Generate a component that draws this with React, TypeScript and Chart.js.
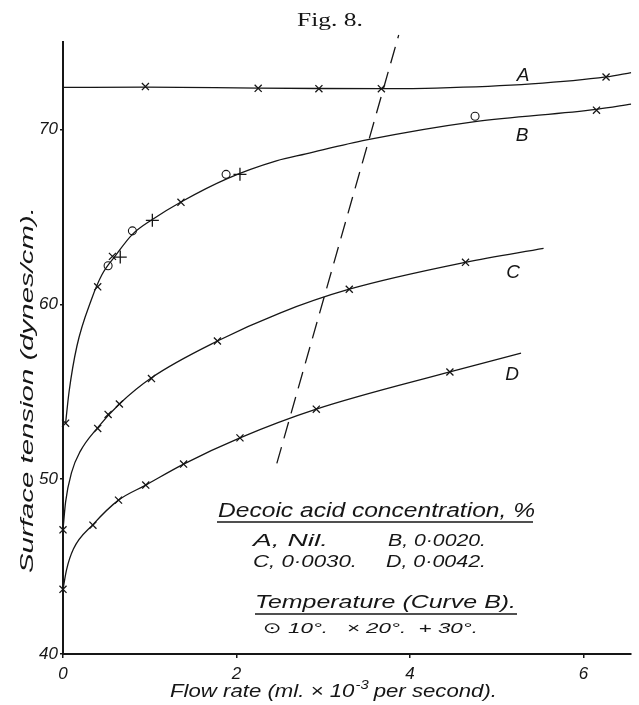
import React, { useEffect, useRef } from "react";
import { Chart, registerables } from "chart.js";
Chart.register(...registerables);

const INK = "#161616";

const xTickValues = [0, 2, 4, 6];
const yTickValues = [40, 50, 60, 70];
const xRange = [0, 6.55];
const yRange = [40, 75];

type P = [number, number];

// Curve A – Nil
const curveA: P[] = [[0, 72.4], [0.95, 72.42], [2.25, 72.36], [2.95, 72.34], [3.67, 72.33], [4.3, 72.36], [5.4, 72.6], [6.26, 73.0], [6.55, 73.25]];
const markA20: P[] = [[0.95, 72.45], [2.25, 72.35], [2.95, 72.33], [3.67, 72.33], [6.26, 73.0]];

// Curve B – 0.0020 %
const curveB: P[] = [[0.03, 53.2], [0.07, 55.0], [0.16, 57.6], [0.33, 60.3], [0.45, 61.7], [0.6, 62.75], [0.8, 64.0], [1.03, 64.85], [1.36, 65.85], [1.9, 67.2], [2.46, 68.2], [2.8, 68.6], [3.5, 69.4], [4.75, 70.45], [6.15, 71.15], [6.55, 71.45]];
const markB10: P[] = [[0.52, 62.2], [0.8, 64.2], [1.88, 67.43], [4.75, 70.75]];
const markB20: P[] = [[0.03, 53.2], [0.4, 61.0], [0.57, 62.74], [1.36, 65.83], [6.15, 71.1]];
const markB30: P[] = [[0.66, 62.7], [1.03, 64.8], [2.04, 67.43]];

// Curve C – 0.0030 %
const curveC: P[] = [[0, 47.1], [0.03, 48.7], [0.1, 50.4], [0.2, 51.6], [0.4, 52.95], [0.65, 54.3], [1.02, 55.8], [1.78, 57.9], [2.5, 59.5], [3.3, 60.86], [4.64, 62.4], [5.54, 63.2]];
const markC20: P[] = [[0, 47.1], [0.4, 52.9], [0.52, 53.7], [0.65, 54.3], [1.02, 55.75], [1.78, 57.9], [3.3, 60.86], [4.64, 62.4]];

// Curve D – 0.0042 %
const curveD: P[] = [[0, 43.7], [0.04, 44.8], [0.12, 46.0], [0.345, 47.4], [0.64, 48.8], [0.954, 49.66], [1.39, 50.86], [2.04, 52.36], [2.92, 54.0], [4.46, 56.13], [5.28, 57.2]];
const markD20: P[] = [[0, 43.7], [0.345, 47.37], [0.64, 48.8], [0.954, 49.66], [1.39, 50.86], [2.04, 52.36], [2.92, 54.0], [4.46, 56.13]];

// dashed line
const dashedLine: P[] = [[2.465, 50.9], [3.87, 75.4]];

const xy = (a: P[]) => a.map(([x, y]) => ({ x, y }));

const FONT = "'Liberation Sans', 'DejaVu Sans', sans-serif";

const lineDs = (d: P[], extra: any = {}) => ({
  type: "line",
  data: xy(d),
  borderColor: INK,
  borderWidth: 1.3,
  pointRadius: 0,
  pointHoverRadius: 0,
  fill: false,
  tension: 0.4,
  cubicInterpolationMode: "monotone",
  ...extra,
});

const markDs = (d: P[], style: string, r: number, bg = "rgba(0,0,0,0)", bw = 1.3) => ({
  type: "line",
  data: xy(d),
  showLine: false,
  pointStyle: style,
  pointRadius: r,
  pointHoverRadius: r,
  pointBorderColor: INK,
  pointBackgroundColor: bg,
  pointBorderWidth: bw,
  clip: false,
});

const textPlugin = {
  id: "figTexts",
  afterDraw(chart: any) {
    const ctx: CanvasRenderingContext2D = chart.ctx;
    ctx.save();
    ctx.fillStyle = INK;
    ctx.strokeStyle = INK;
    ctx.textBaseline = "alphabetic";
    ctx.textAlign = "left";

    const fit = (t: string, x: number, y: number, w: number, font: string, align = "left") => {
      ctx.font = font;
      const m = ctx.measureText(t).width;
      const s = w / m;
      ctx.save();
      const x0 = align === "center" ? x - w / 2 : x;
      ctx.translate(x0, y);
      ctx.scale(s, 1);
      ctx.fillText(t, 0, 0);
      ctx.restore();
    };
    const hline = (x1: number, x2: number, y: number, w = 1.3) => {
      ctx.beginPath();
      ctx.lineWidth = w;
      ctx.moveTo(x1, y);
      ctx.lineTo(x2, y);
      ctx.stroke();
    };

    // figure title
    (ctx as any).fontVariantCaps = "small-caps";
    fit("Fig. 8.", 330, 26, 66, "19px 'Liberation Serif', 'DejaVu Serif', serif", "center");
    (ctx as any).fontVariantCaps = "normal";

    // curve labels
    const lf = `italic 19px ${FONT}`;
    ctx.font = lf;
    ctx.textAlign = "center";
    ctx.fillText("A", 523, 81);
    ctx.fillText("B", 522, 141);
    ctx.fillText("C", 513, 278);
    ctx.fillText("D", 512, 380);
    ctx.textAlign = "left";

    // legend block
    fit("Decoic acid concentration, %", 218, 517, 317, `italic 20px ${FONT}`);
    hline(217, 533, 522);
    fit("A, Nil.", 253, 546, 75, `italic 17px ${FONT}`);
    fit("B, 0·0020.", 388, 546, 98, `italic 17px ${FONT}`);
    fit("C, 0·0030.", 253, 567, 104, `italic 17px ${FONT}`);
    fit("D, 0·0042.", 386, 567, 100, `italic 17px ${FONT}`);
    fit("Temperature (Curve B).", 255, 608, 261, `italic 19px ${FONT}`);
    hline(255, 517, 614);
    fit("⊙ 10°.   × 20°.  + 30°.", 263, 633, 215, `italic 15px ${FONT}`);

    // y-axis title
    ctx.save();
    ctx.translate(33, 390);
    ctx.rotate(-Math.PI / 2);
    fit("Surface tension (dynes/cm).", 0, 0, 366, `italic 18px ${FONT}`, "center");
    ctx.restore();

    // x-axis title with superscript
    {
      const f1 = `italic 18px ${FONT}`;
      const f2 = `italic 12px ${FONT}`;
      const p1 = "Flow rate (ml. × 10";
      const p2 = "-3";
      const p3 = " per second).";
      ctx.font = f1;
      const w1 = ctx.measureText(p1).width;
      const w3 = ctx.measureText(p3).width;
      ctx.font = f2;
      const w2 = ctx.measureText(p2).width;
      const tot = w1 + w2 + w3;
      const target = 327;
      const s = target / tot;
      ctx.save();
      ctx.translate(170, 697);
      ctx.scale(s, 1);
      ctx.font = f1;
      ctx.fillText(p1, 0, 0);
      ctx.font = f2;
      ctx.fillText(p2, w1 + 1, -8);
      ctx.font = f1;
      ctx.fillText(p3, w1 + w2, 0);
      ctx.restore();
    }

    ctx.restore();
  },
};

export default function App() {
  const ref = useRef<HTMLCanvasElement | null>(null);
  useEffect(() => {
    if (!ref.current) return;
    const chart = new Chart(ref.current, {
      type: "line",
      data: {
        datasets: [
          lineDs(curveA),
          lineDs(curveB),
          lineDs(curveC),
          lineDs(curveD),
          lineDs(dashedLine, { tension: 0, borderDash: [17, 9], borderWidth: 1.3, clip: false }),
          markDs(markA20, "crossRot", 5),
          markDs(markB20, "crossRot", 5),
          markDs(markC20, "crossRot", 5),
          markDs(markD20, "crossRot", 5),
          markDs(markB30, "cross", 6.5),
          markDs(markB10, "circle", 4, "#ffffff", 1.1),
          markDs(markB10, "circle", 0.9, INK, 0.5),
        ] as any,
      },
      options: {
        animation: false,
        responsive: false,
        events: [],
        layout: { padding: { top: 42, right: 1, left: 0, bottom: 0 } },
        plugins: { legend: { display: false }, tooltip: { enabled: false }, title: { display: false } },
        scales: {
          x: {
            type: "linear",
            min: xRange[0],
            max: xRange[1],
            afterBuildTicks: (s: any) => {
              s.ticks = xTickValues.map((v) => ({ value: v }));
            },
            afterFit: (s: any) => {
              s.height = 51;
            },
            grid: { drawOnChartArea: false, drawTicks: true, tickLength: 4, color: INK, lineWidth: 1.5 },
            border: { display: true, color: INK, width: 2 },
            ticks: { color: INK, padding: 6, maxRotation: 0, font: { family: FONT, size: 17, style: "italic" } },
          },
          y: {
            type: "linear",
            min: yRange[0],
            max: yRange[1],
            afterBuildTicks: (s: any) => {
              s.ticks = yTickValues.map((v) => ({ value: v }));
            },
            afterFit: (s: any) => {
              s.width = 63;
            },
            grid: { drawOnChartArea: false, drawTicks: true, tickLength: 3, color: INK, lineWidth: 1.5 },
            border: { display: true, color: INK, width: 2 },
            ticks: { color: INK, padding: 2, font: { family: FONT, size: 17, style: "italic" } },
          },
        },
      } as any,
      plugins: [textPlugin as any],
    });
    return () => chart.destroy();
  }, []);
  return (
    <div style={{ position: "absolute", left: 0, top: 0, width: 639, height: 705, background: "#fff" }}>
      <canvas ref={ref} width={639} height={705} style={{ display: "block" }} />
    </div>
  );
}
